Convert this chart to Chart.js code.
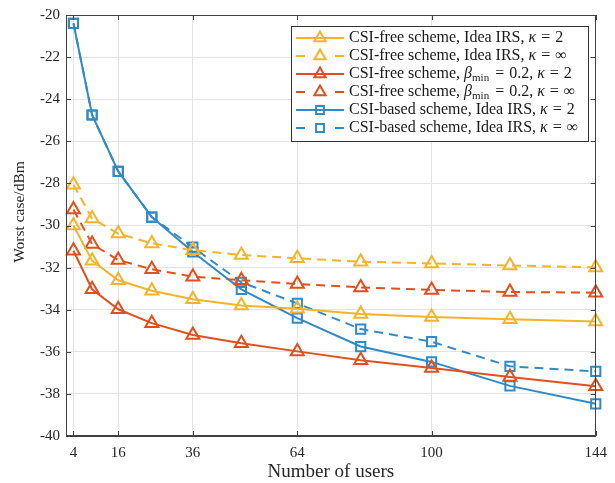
<!DOCTYPE html>
<html>
<head>
<meta charset="utf-8">
<script src="https://cdn.jsdelivr.net/npm/chart.js@4/dist/chart.umd.min.js"></script>
<style>
body{margin:0;background:#fff}
canvas{display:block}
</style>
</head>
<body>
<canvas id="c" width="615" height="483"></canvas>
<script>
const users = [4, 9, 16, 25, 36, 49, 64, 81, 100, 121, 144]
const xTicks = [4, 16, 36, 64, 100, 144]

const freeIdeal2 = [-30.0, -31.67, -32.6, -33.1, -33.5, -33.8, -33.95, -34.2, -34.35, -34.45, -34.56]
const freeIdealInf = [-28.06, -29.67, -30.38, -30.85, -31.17, -31.4, -31.56, -31.72, -31.8, -31.9, -31.99]
const freeBeta2 = [-31.2, -33.03, -33.98, -34.64, -35.2, -35.59, -35.98, -36.4, -36.77, -37.2, -37.64]
const freeBetaInf = [-29.24, -30.88, -31.64, -32.08, -32.43, -32.6, -32.78, -32.94, -33.06, -33.16, -33.19]
const basedIdeal2 = [-20.4, -24.75, -27.43, -29.6, -31.26, -33.03, -34.4, -35.75, -36.48, -37.62, -38.47]
const basedIdealInf = [-20.4, -24.75, -27.43, -29.6, -31.03, -32.7, -33.7, -34.92, -35.52, -36.69, -36.93]

const labels = [
  "CSI-free scheme, Idea IRS, κ = 2",
  "CSI-free scheme, Idea IRS, κ = ∞",
  "CSI-free scheme, β_min = 0.2, κ = 2",
  "CSI-free scheme, β_min = 0.2, κ = ∞",
  "CSI-based scheme, Idea IRS, κ = 2",
  "CSI-based scheme, Idea IRS, κ = ∞"
]

const YEL = "#f4b42a", RED = "#e0501e", BLU = "#3189c6"
const FONT = "'Liberation Serif', serif"
const AX = "#404040"

function series(label, vals, color, dashed, style){
  return {
    label: label,
    data: users.map((u, i) => ({x: u, y: vals[i]})),
    borderColor: color,
    backgroundColor: color,
    borderWidth: 2,
    borderDash: dashed ? [9, 6] : [],
    pointStyle: style,
    pointRadius: style == "triangle" ? 7.5 : 6.5,
    pointBorderWidth: 2,
    pointBorderColor: color,
    pointBackgroundColor: "rgba(0,0,0,0)",
    tension: 0,
    clip: false
  }
}

// legend text with italic greek, subscript "min" and math spacing round "="
function drawRich(ctx, text, x, y){
  const parts = text.split(/(κ|β|_min|∞| = )/)
  parts.forEach(p => {
    if(!p) return
    if(p == "_min"){
      ctx.font = "11px " + FONT
      ctx.fillText("min", x, y + 4)
      x += ctx.measureText("min").width + 1
      return
    }
    if(p == " = "){
      ctx.font = "16px " + FONT
      x += 5
      ctx.fillText("=", x, y)
      x += ctx.measureText("=").width + 5
      return
    }
    ctx.font = (p == "κ" || p == "β") ? "italic 16px " + FONT : "16px " + FONT
    ctx.fillText(p, x, y)
    x += ctx.measureText(p).width
  })
}

function marker(ctx, style, x, y, r){
  ctx.beginPath()
  if(style == "triangle"){
    for(let k = 0; k < 3; k++){
      const a = k * 2 * Math.PI / 3
      const px = x + Math.sin(a) * r, py = y - Math.cos(a) * r
      if(k == 0) ctx.moveTo(px, py); else ctx.lineTo(px, py)
    }
    ctx.closePath()
  } else {
    const s = r * Math.SQRT1_2
    ctx.rect(x - s, y - s, 2 * s, 2 * s)
  }
  ctx.stroke()
}

const frame = {
  id: "frame",
  afterDraw(chart){
    const ctx = chart.ctx
    const a = chart.chartArea
    const xs = chart.scales.x, ys = chart.scales.y
    ctx.save()
    ctx.strokeStyle = AX
    ctx.lineWidth = 1
    ctx.beginPath()
    ctx.rect(Math.round(a.left) + 0.5, Math.round(a.top) + 0.5, Math.round(a.right - a.left) - 1, Math.round(a.bottom - a.top) - 1)
    xTicks.forEach(v => {
      const px = Math.round(xs.getPixelForValue(v)) + 0.5
      ctx.moveTo(px, a.bottom); ctx.lineTo(px, a.bottom - 5)
      ctx.moveTo(px, a.top); ctx.lineTo(px, a.top + 5)
    })
    for(let v = -40; v <= -20; v += 2){
      const py = Math.round(ys.getPixelForValue(v)) + 0.5
      ctx.moveTo(a.left, py); ctx.lineTo(a.left + 5, py)
      ctx.moveTo(a.right, py); ctx.lineTo(a.right - 5, py)
    }
    ctx.stroke()

    // y axis title
    ctx.save()
    ctx.translate(20, 212)
    ctx.rotate(-Math.PI / 2)
    ctx.fillStyle = "#262626"
    ctx.font = "15.5px " + FONT
    ctx.textAlign = "center"
    ctx.textBaseline = "middle"
    ctx.fillText("Worst case/dBm", 0, 0)
    ctx.restore()

    // legend
    const L = 291, T = 26, W = 297, H = 115
    ctx.fillStyle = "#fff"
    ctx.fillRect(L, T, W, H)
    ctx.strokeStyle = "#333"
    ctx.strokeRect(L + 0.5, T + 0.5, W, H)
    chart.data.datasets.forEach((d, i) => {
      const y = 38 + i * 18
      ctx.strokeStyle = d.borderColor
      ctx.lineWidth = 2
      ctx.beginPath()
      if(d.borderDash.length){
        ctx.moveTo(296, y); ctx.lineTo(305, y)
        ctx.moveTo(335, y); ctx.lineTo(344, y)
      } else {
        ctx.moveTo(296, y); ctx.lineTo(344, y)
      }
      ctx.stroke()
      marker(ctx, d.pointStyle, 320, y, d.pointStyle == "triangle" ? 6.5 : 5.5)
      ctx.fillStyle = "#1a1a1a"
      ctx.textBaseline = "middle"
      ctx.textAlign = "left"
      drawRich(ctx, d.label, 349, y)
    })
    ctx.restore()
  }
}

new Chart(document.getElementById("c"), {
  type: "line",
  data: {
    datasets: [
      series(labels[0], freeIdeal2, YEL, false, "triangle"),
      series(labels[1], freeIdealInf, YEL, true, "triangle"),
      series(labels[2], freeBeta2, RED, false, "triangle"),
      series(labels[3], freeBetaInf, RED, true, "triangle"),
      series(labels[4], basedIdeal2, BLU, false, "rect"),
      series(labels[5], basedIdealInf, BLU, true, "rect")
    ]
  },
  options: {
    responsive: false,
    devicePixelRatio: 1,
    animation: false,
    layout: {padding: {top: 14, right: 14, left: 0, bottom: 0}},
    plugins: {legend: {display: false}, tooltip: {enabled: false}},
    scales: {
      x: {
        type: "linear",
        min: 2,
        max: 144,
        afterBuildTicks: s => { s.ticks = xTicks.map(v => ({value: v})) },
        afterFit: s => { s.height = 47 },
        grid: {color: "#e3e3e3", drawTicks: false},
        border: {color: AX},
        ticks: {padding: 8, color: "#262626", font: {family: FONT, size: 15}, maxRotation: 0},
        title: {display: true, text: "Number of users", color: "#262626", font: {family: FONT, size: 19}, padding: {top: 0, bottom: 0}}
      },
      y: {
        min: -40,
        max: -20,
        afterFit: s => { s.width = 66 },
        grid: {color: "#e3e3e3", drawTicks: false},
        border: {color: AX},
        ticks: {stepSize: 2, padding: 6, color: "#262626", font: {family: FONT, size: 15}},
        title: {display: false}
      }
    }
  },
  plugins: [frame]
})
</script>
</body>
</html>
